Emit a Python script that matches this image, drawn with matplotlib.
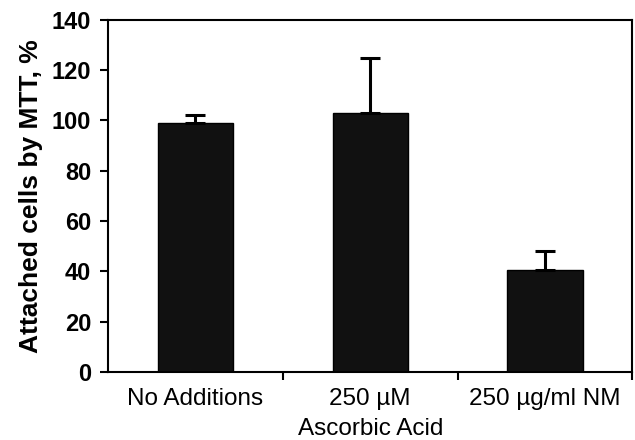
import matplotlib
matplotlib.use("Agg")
from matplotlib import pyplot as plt

categories = ["No Additions", "250 \u00b5M\nAscorbic Acid", "250 \u00b5g/ml NM"]
values = [99, 103, 40.5]
errors = [3, 22, 7.5]

plt.rcParams["font.family"] = ["Liberation Sans", "DejaVu Sans"]

fig = plt.figure(figsize=(6.35, 4.4), dpi=100)
ax = fig.add_axes([0.170, 0.155, 0.826, 0.80])

x = list(range(len(categories)))
ax.bar(x, values, width=0.43, color="#111111", edgecolor="#000000", linewidth=1)
ax.errorbar(x, values, yerr=[[0] * len(errors), errors], fmt="none",
            ecolor="black", elinewidth=2.2, capsize=7, capthick=2.2)

ax.set_xlim(-0.5, 2.5)
ax.set_ylim(0, 140)
ax.set_yticks(range(0, 141, 20))
ax.set_yticklabels([str(v) for v in range(0, 141, 20)], fontsize=17, fontweight="bold")
ax.set_xticks([0.5, 1.5, 2.5])
ax.set_xticklabels([])
ax.set_xticks(x, minor=True)
ax.set_xticklabels(categories, minor=True, fontsize=17.5, linespacing=1.45)
ax.tick_params(axis="x", which="minor", length=0, pad=12)
ax.tick_params(axis="x", which="major", length=6, width=1.5, direction="out")
ax.tick_params(axis="y", length=6, width=1.5, direction="out", pad=6)
ax.set_ylabel("Attached cells by MTT, %", fontsize=19, fontweight="bold", labelpad=6)

for side in ["left", "bottom", "top", "right"]:
    ax.spines[side].set_linewidth(1.5)

fig.savefig("out.png", dpi=100)
